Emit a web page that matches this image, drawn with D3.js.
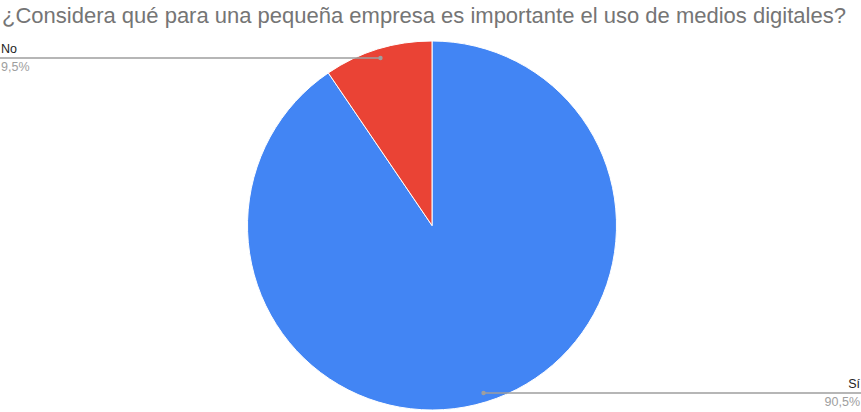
<!DOCTYPE html>
<html>
<head>
<meta charset="utf-8">
<script src="https://cdn.jsdelivr.net/npm/d3@7"></script>
<style>
  html, body { margin: 0; padding: 0; background: #fff; }
  svg { display: block; }
</style>
</head>
<body>
<svg id="chart" width="861" height="412"></svg>
<script>
// Survey answers and their shares (percent)
const categories = ["Sí", "No"];
const values = [90.5, 9.5];
const percentLabels = ["90,5%", "9,5%"];
const sliceColors = ["#4285F4", "#EA4335"];
const title = "¿Considera qué para una pequeña empresa es importante el uso de medios digitales?";

const width = 861, height = 412;
const cx = 432, cy = 225.5, radius = 184.5;

const svg = d3.select("#chart");

svg.append("text")
  .attr("x", 2)
  .attr("y", 23)
  .attr("font-family", "'Liberation Sans', Arial, sans-serif")
  .attr("font-size", 22)
  .attr("fill", "#757575")
  .text(title);

const pie = d3.pie().sort(null).value(d => d);
const arcs = pie(values);
const arc = d3.arc().innerRadius(0).outerRadius(radius);
const dotArc = d3.arc().innerRadius(radius * 0.95).outerRadius(radius * 0.95);

const g = svg.append("g").attr("transform", `translate(${cx},${cy})`);

g.selectAll("path.slice")
  .data(arcs)
  .join("path")
  .attr("class", "slice")
  .attr("d", arc)
  .attr("fill", (d, i) => sliceColors[i])
  .attr("stroke", "#fff")
  .attr("stroke-width", 1);

// Leader lines: horizontal from the slice's mid point out to the chart side
const labelGroup = svg.append("g");
arcs.forEach((d, i) => {
  const [px, py] = dotArc.centroid(d);
  const x0 = cx + px, y0 = cy + py;
  const right = x0 > cx;
  const xEnd = right ? width : 0;
  labelGroup.append("line")
    .attr("x1", x0).attr("y1", y0)
    .attr("x2", xEnd).attr("y2", y0)
    .attr("stroke", "#9e9e9e")
    .attr("stroke-width", 1.5);
  labelGroup.append("circle")
    .attr("cx", x0).attr("cy", y0).attr("r", 2.2)
    .attr("fill", "#9e9e9e");
  const tx = right ? width - 1 : 1;
  const anchor = right ? "end" : "start";
  labelGroup.append("text")
    .attr("x", tx).attr("y", y0 - 5)
    .attr("text-anchor", anchor)
    .attr("font-family", "'Liberation Sans', Arial, sans-serif")
    .attr("font-size", 12.5)
    .attr("fill", "#222")
    .text(categories[i]);
  labelGroup.append("text")
    .attr("x", tx).attr("y", y0 + 13)
    .attr("text-anchor", anchor)
    .attr("font-family", "'Liberation Sans', Arial, sans-serif")
    .attr("font-size", 12.5)
    .attr("fill", "#9e9e9e")
    .text(percentLabels[i]);
});
</script>
</body>
</html>
